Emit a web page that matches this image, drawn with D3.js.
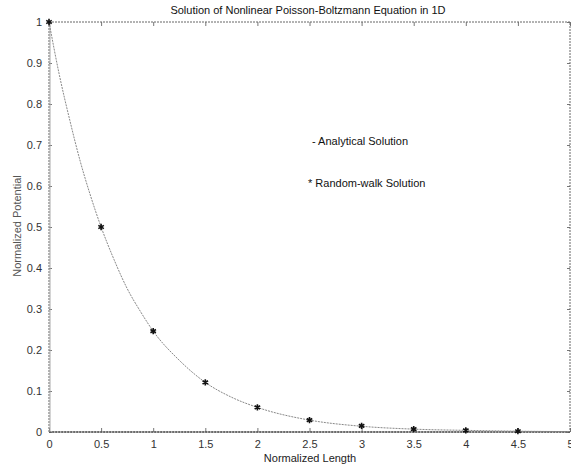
<!DOCTYPE html>
<html>
<head>
<meta charset="utf-8">
<script src="https://cdn.jsdelivr.net/npm/d3@7"></script>
<style>
  body { margin: 0; background: #fff; }
  text { font-family: "Liberation Sans", Arial, sans-serif; }
</style>
</head>
<body>
<div id="chart"></div>
<script>
// size of the picture
var w = 571;
var h = 465;

// analytical curve
var curveX = [0, 0.1, 0.2, 0.3, 0.4, 0.5, 0.625, 0.75, 0.875, 1, 1.25, 1.5, 1.75, 2, 2.5, 3, 3.5, 4, 4.5, 5];
var curveY = [1, 0.87, 0.76, 0.66, 0.575, 0.5, 0.42, 0.35, 0.295, 0.246, 0.175, 0.121, 0.085, 0.06, 0.029, 0.014, 0.007, 0.004, 0.002, 0.001];

// random-walk points
var walkX = [0, 0.5, 1, 1.5, 2, 2.5, 3, 3.5, 4, 4.5];
var walkY = [1, 0.5, 0.246, 0.121, 0.06, 0.029, 0.015, 0.007, 0.004, 0.002];

var xTicks = [0, 0.5, 1, 1.5, 2, 2.5, 3, 3.5, 4, 4.5, 5];
var yTicks = [0, 0.1, 0.2, 0.3, 0.4, 0.5, 0.6, 0.7, 0.8, 0.9, 1];

var pLeft = 49, pRight = 570, pTop = 22, pBottom = 432;

var x = d3.scaleLinear().domain([0, 5]).range([pLeft, pRight]);
var y = d3.scaleLinear().domain([0, 1]).range([pBottom, pTop]);

var svg = d3.select("#chart")
            .append("svg")
            .attr("width", w)
            .attr("height", h);

//Title
svg.append("text")
   .attr("x", 308)
   .attr("y", 14)
   .attr("text-anchor", "middle")
   .style("font-size", "11px")
   .style("fill", "#111")
   .text("Solution of Nonlinear Poisson-Boltzmann Equation in 1D");

//Axes, ticks pointing inside
var fmt = function(d) { return d3.format("~g")(d); };

svg.append("g")
   .attr("class", "ax")
   .attr("transform", "translate(0," + pBottom + ")")
   .call(d3.axisBottom(x).tickValues(xTicks).tickFormat(fmt).tickSize(-4).tickPadding(8));
svg.append("g")
   .attr("class", "ax")
   .attr("transform", "translate(0," + pTop + ")")
   .call(d3.axisTop(x).tickValues(xTicks).tickFormat("").tickSize(-4));
svg.append("g")
   .attr("class", "ax")
   .attr("transform", "translate(" + pLeft + ",0)")
   .call(d3.axisLeft(y).tickValues(yTicks).tickFormat(fmt).tickSize(-3).tickPadding(7));
svg.append("g")
   .attr("class", "ax")
   .attr("transform", "translate(" + pRight + ",0)")
   .call(d3.axisRight(y).tickValues(yTicks).tickFormat("").tickSize(-3));

svg.selectAll(".ax .domain").remove();
svg.selectAll(".ax .tick line").style("stroke", "#777");
svg.selectAll(".ax text").style("font-size", "11px").style("fill", "#333");

//Dotted box
svg.append("rect")
   .attr("x", pLeft)
   .attr("y", pTop)
   .attr("width", pRight - pLeft)
   .attr("height", pBottom - pTop)
   .style("fill", "none")
   .style("stroke", "#666")
   .style("stroke-width", 1)
   .style("stroke-dasharray", "2,1");
svg.append("line")
   .attr("x1", pLeft).attr("x2", pRight)
   .attr("y1", pBottom).attr("y2", pBottom)
   .style("stroke", "#555")
   .style("stroke-width", 1.5)
   .style("stroke-dasharray", "2,1");
svg.append("line")
   .attr("x1", pLeft + 1).attr("x2", pLeft + 1)
   .attr("y1", pTop).attr("y2", pBottom)
   .style("stroke", "#aaa")
   .style("stroke-width", 1);

//Axis titles
svg.append("text")
   .attr("x", 310)
   .attr("y", 462)
   .attr("text-anchor", "middle")
   .style("font-size", "11px")
   .style("fill", "#222")
   .text("Normalized Length");
svg.append("text")
   .attr("transform", "translate(21,226) rotate(-90)")
   .attr("text-anchor", "middle")
   .style("font-size", "11px")
   .style("fill", "#555")
   .text("Normalized Potential");

//Analytical curve
var line = d3.line()
             .x(function(d) { return x(d[0]); })
             .y(function(d) { return y(d[1]); })
             .curve(d3.curveMonotoneX);

svg.append("path")
   .datum(d3.zip(curveX, curveY))
   .attr("d", line)
   .style("fill", "none")
   .style("stroke", "#888")
   .style("stroke-width", 1)
   .style("stroke-dasharray", "2,1");

//Random-walk markers
var star = d3.symbol().type(d3.symbolAsterisk).size(28);
svg.selectAll("path.pt")
   .data(d3.zip(walkX, walkY))
   .enter()
   .append("path")
   .attr("class", "pt")
   .attr("d", star)
   .attr("transform", function(d) { return "translate(" + x(d[0]) + "," + y(d[1]) + ")"; })
   .style("fill", "none")
   .style("stroke", "#111")
   .style("stroke-width", 1.6);

//Legend text
svg.append("text")
   .attr("x", 312)
   .attr("y", 145)
   .style("font-size", "11px")
   .style("fill", "#111")
   .text("- Analytical Solution");
svg.append("text")
   .attr("x", 308)
   .attr("y", 187)
   .style("font-size", "11px")
   .style("fill", "#111")
   .text("* Random-walk Solution");
</script>
</body>
</html>
